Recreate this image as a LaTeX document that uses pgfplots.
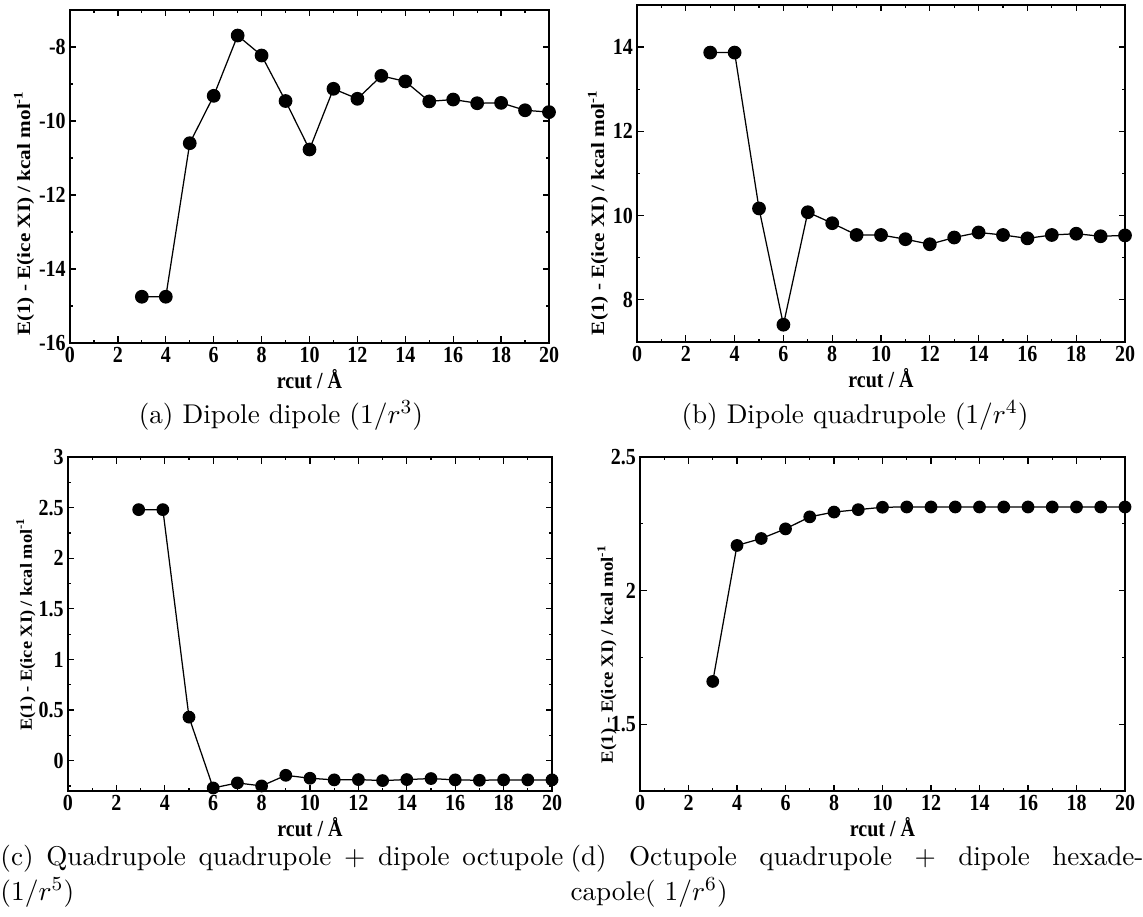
\documentclass[border=0pt]{standalone}
\usepackage{fontspec}
\usepackage{graphicx}
\usepackage{pgfplots}
\pgfplotsset{compat=1.18}
\newfontfamily\timesf{Liberation Serif}

\newcommand\tickfont{\timesf\bfseries\fontsize{8}{9}\selectfont}
\newcommand\capfont{\fontsize{10.85}{14}\selectfont}

\pgfplotsset{
  panel/.style={
    scale only axis, clip=false,
    xmin=0, xmax=20,
    xtick={0,2,...,20}, minor xtick={1,3,...,19},
    xtick pos=both, ytick pos=both,
    tick align=inside,
    major tick length=2.6pt, minor tick length=1.3pt,
    every tick/.style={black, line width=0.5pt},
    axis line style={line width=0.6pt},
    ticklabel style={font=\tickfont},
    xticklabel={\scalebox{1}[1.15]{\pgfmathprintnumber[assume math mode=true]{\tick}}},
    yticklabel={\scalebox{1}[1.15]{\pgfmathprintnumber[assume math mode=true]{\tick}}},
    xticklabel style={inner sep=1.5pt},
    yticklabel style={inner sep=1.5pt},
    xlabel={\scalebox{1}[1.15]{rcut / Å}},
    xlabel style={font=\tickfont, inner sep=1pt},
  },
  dots/.style={black, line width=0.5pt, mark=*, mark size=#1,
    mark options={solid, draw=black, fill=black}},
  % y label: position (x,y in axis description cs), font size, stretch
  elabel/.style n args={4}{
    ylabel={\scalebox{#4}[1]{E(1) - E(ice XI) / kcal mol\textsuperscript{-1}}},
    ylabel style={font=\timesf\bfseries\fontsize{#3}{#3}\selectfont,
      at={(axis description cs:#1,#2)}, anchor=center},
  },
}

\begin{document}
\begin{tikzpicture}
\useasboundingbox (0,0) rectangle (457.2pt,-366.4pt);

% (a) dipole--dipole
\begin{axis}[panel, at={(28pt,-4pt)}, anchor=north west,
  width=191.6pt, height=133.2pt,
  ymin=-16, ymax=-7, ytick={-16,-14,...,-8}, minor ytick={-15,-13,...,-7},
  elabel={-0.096}{0.39}{7.5}{1.13}]
\addplot[dots=2.5pt] coordinates {(3,-14.75) (4,-14.75) (5,-10.60) (6,-9.32) (7,-7.69)
  (8,-8.23) (9,-9.46) (10,-10.77) (11,-9.13) (12,-9.40) (13,-8.78) (14,-8.93)
  (15,-9.47) (16,-9.42) (17,-9.52) (18,-9.51) (19,-9.71) (20,-9.76)};
\end{axis}

% (b) dipole--quadrupole
\begin{axis}[panel, at={(254.8pt,-2pt)}, anchor=north west,
  width=195.2pt, height=134.8pt,
  ymin=7, ymax=15, ytick={8,10,12,14}, minor ytick={7,9,...,15},
  elabel={-0.080}{0.385}{7.5}{1.13}]
\addplot[dots=2.5pt] coordinates {(3,13.87) (4,13.87) (5,10.17) (6,7.41) (7,10.08)
  (8,9.82) (9,9.54) (10,9.54) (11,9.44) (12,9.32) (13,9.48) (14,9.60)
  (15,9.54) (16,9.46) (17,9.54) (18,9.57) (19,9.51) (20,9.53)};
\end{axis}

% (c) quadrupole--quadrupole + dipole--octupole
\begin{axis}[panel, at={(27.2pt,-182.8pt)}, anchor=north west,
  width=193.6pt, height=133.6pt,
  ymin=-0.3, ymax=3, ytick={0,0.5,...,3}, minor ytick={-0.25,0.25,...,2.75},
  elabel={-0.087}{0.50}{6.8}{1.08}]
\addplot[dots=2.3pt] coordinates {(2.92,2.48) (3.92,2.48) (5,0.43) (6,-0.27) (7,-0.22)
  (8,-0.25) (9,-0.145) (10,-0.174) (11,-0.19) (12,-0.187) (13,-0.197)
  (14,-0.187) (15,-0.177) (16,-0.19) (17,-0.194) (18,-0.19) (19,-0.19)
  (20,-0.19)};
\end{axis}

% (d) octupole--quadrupole + dipole--hexadecapole
\begin{axis}[panel, at={(256pt,-182.8pt)}, anchor=north west,
  width=194pt, height=133.6pt,
  ymin=1.25, ymax=2.5, ytick={1.5,2,2.5}, minor ytick={1.25,1.75,2.25},
  elabel={-0.068}{0.41}{6.9}{1.09}]
\addplot[dots=2.3pt] coordinates {(3,1.66) (4,2.169) (5,2.195) (6,2.231) (7,2.276)
  (8,2.294) (9,2.303) (10,2.312) (11,2.313) (12,2.313) (13,2.313)
  (14,2.313) (15,2.313) (16,2.313) (17,2.313) (18,2.313) (19,2.313)
  (20,2.313)};
\end{axis}

% sub-captions
\node[anchor=base, inner sep=0, font=\capfont] at (112.4pt,-169.2pt)
  {(a) Dipole dipole $(1/r^3)$};
\node[anchor=base, inner sep=0, font=\capfont] at (342pt,-169.2pt)
  {(b) Dipole quadrupole $(1/r^4)$};
\node[anchor=base west, inner sep=0, font=\capfont] at (0pt,-346pt)
  {\hbox to 225.2pt{(c) Quadrupole quadrupole $+$ dipole octupole}};
\node[anchor=base west, inner sep=0, font=\capfont] at (0pt,-360pt)
  {$(1/r^5)$};
\node[anchor=base west, inner sep=0, font=\capfont] at (228pt,-346pt)
  {\hbox to 229.2pt{(d) Octupole quadrupole $+$ dipole hexade-}};
\node[anchor=base west, inner sep=0, font=\capfont] at (228pt,-360pt)
  {capole( $1/r^6$)};
\end{tikzpicture}
\end{document}
